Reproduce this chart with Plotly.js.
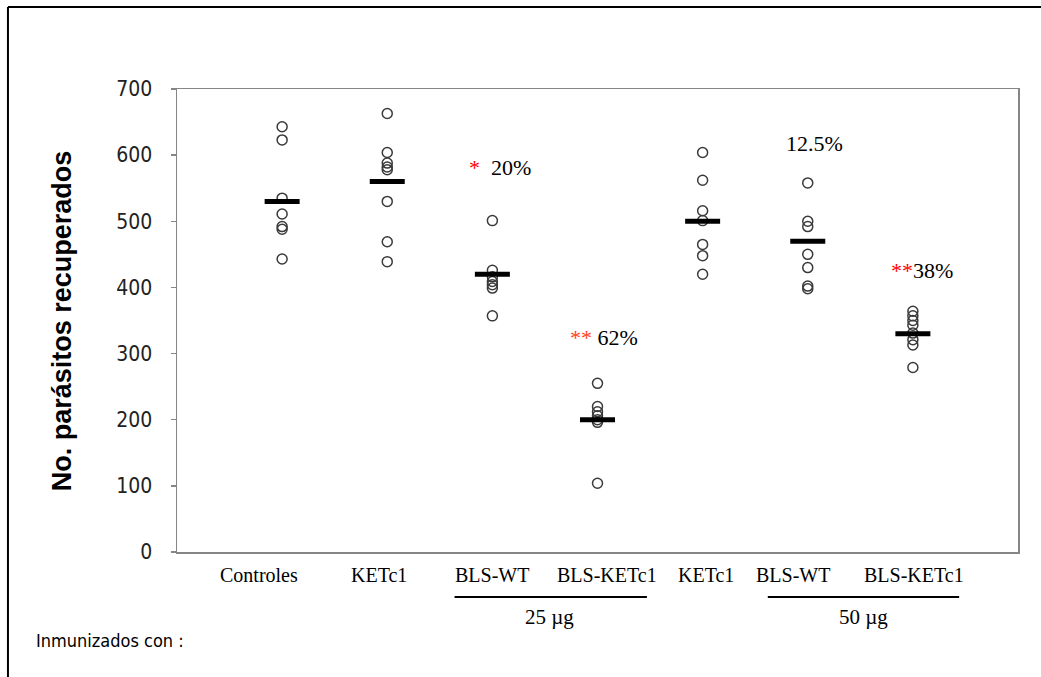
<!DOCTYPE html>
<html>
<head>
<meta charset="utf-8">
<script src="https://cdn.plot.ly/plotly-3.0.1.min.js"></script>
<style>html,body{margin:0;padding:0;background:#fff;}#chart{width:1041px;height:677px;}</style>
</head>
<body>
<div id="chart"></div>
<script>
// Group positions (category index) and labels
const groupPos = [1, 2, 3, 4, 5, 6, 7];
const groupLabels = ["Controles", "KETc1", "BLS-WT", "BLS-KETc1", "KETc1", "BLS-WT", "BLS-KETc1"];
const labelPos = [0.78, 1.92, 3.0, 4.09, 5.03, 5.86, 7.01];

// Individual values per group
const controles = [643, 623, 535, 511, 492, 488, 443];
const ketc1 = [663, 604, 588, 582, 578, 530, 469, 439];
const blsWt25 = [501, 426, 416, 409, 404, 399, 357];
const blsKetc1_25 = [255, 220, 212, 206, 200, 196, 104];
const ketc1_50 = [604, 562, 516, 501, 465, 448, 420];
const blsWt50 = [558, 500, 492, 450, 430, 402, 398];
const blsKetc1_50 = [364, 357, 350, 343, 331, 321, 313, 279];

const groups = [controles, ketc1, blsWt25, blsKetc1_25, ketc1_50, blsWt50, blsKetc1_50];
const medians = [530, 560, 420, 200, 500, 470, 330];

// Annotation texts
const pctTexts = ['<span style="color:#ff0000">*</span>  20%', '<span style="color:#ff4020">**</span> 62%', '12.5%', '<span style="color:#ff0000">**</span>38%'];
const pctX = [3.07, 4.06, 6.06, 7.09];
const pctY = [581, 324, 618, 426];

const doseLabels = ["25 \u00b5g", "50 \u00b5g"];
const doseX = [3.54, 6.53];
const doseLine = [[2.64, 4.47], [5.62, 7.44]];

const xs = [], ys = [];
groups.forEach((g, i) => g.forEach(v => { xs.push(groupPos[i]); ys.push(v); }));

const traces = [
  {
    x: xs, y: ys, type: 'scatter', mode: 'markers',
    marker: {symbol: 'circle-open', size: 10, color: '#3a3a3a', line: {width: 1.5, color: '#3a3a3a'}},
    hoverinfo: 'y', showlegend: false
  },
  {
    x: groupPos, y: medians, type: 'scatter', mode: 'markers',
    marker: {symbol: 'line-ew', size: 25, color: '#000', line: {width: 5, color: '#000'}},
    hoverinfo: 'y', showlegend: false
  }
];

const serif = 'Liberation Serif, Times New Roman, serif';
const narrow = 'DejaVu Sans Condensed, Liberation Sans Narrow, Arial Narrow, sans-serif';
const annotations = [];
groupLabels.forEach((t, i) => annotations.push({
  text: t, x: labelPos[i], xref: 'x', y: -0.05, yref: 'paper',
  showarrow: false, xanchor: 'center', yanchor: 'middle',
  font: {family: serif, size: 20, color: '#000'}
}));
pctTexts.forEach((t, i) => annotations.push({
  text: t, x: pctX[i], xref: 'x', y: pctY[i], yref: 'y',
  showarrow: false, xanchor: 'center', yanchor: 'middle',
  font: {family: serif, size: 22, color: '#000'}
}));
doseLabels.forEach((t, i) => annotations.push({
  text: t, x: doseX[i], xref: 'x', y: -0.141, yref: 'paper',
  showarrow: false, xanchor: 'center', yanchor: 'middle',
  font: {family: serif, size: 21, color: '#000'}
}));
annotations.push({
  text: 'Inmunizados con :', x: -0.170, xref: 'paper', y: -0.192, yref: 'paper',
  showarrow: false, xanchor: 'left', yanchor: 'middle',
  font: {family: narrow, size: 18, color: '#000'}
});
annotations.push({
  text: '<b>No. parásitos recuperados</b>', x: -0.137, xref: 'paper', y: 0.50, yref: 'paper',
  showarrow: false, textangle: -90, xanchor: 'center', yanchor: 'middle',
  font: {family: 'Liberation Sans, Arial, sans-serif', size: 27, color: '#000'}
});

const shapes = doseLine.map(d => ({
  type: 'line', xref: 'x', yref: 'paper', x0: d[0], x1: d[1], y0: -0.097, y1: -0.097,
  line: {color: '#000', width: 2}
}));
// outer frame (top and left)
shapes.push({type: 'line', xref: 'paper', yref: 'paper', x0: -0.201, x1: 1.03, y0: 1.177, y1: 1.177, line: {color: '#000', width: 2}});
shapes.push({type: 'line', xref: 'paper', yref: 'paper', x0: -0.201, x1: -0.201, y0: 1.177, y1: -0.27, line: {color: '#000', width: 2}});

const layout = {
  width: 1041, height: 677,
  margin: {l: 177, r: 23, t: 89, b: 125},
  paper_bgcolor: '#fff', plot_bgcolor: '#fff',
  xaxis: {
    range: [0, 8], showgrid: false, zeroline: false, showticklabels: false, ticks: '',
    showline: true, mirror: true, linecolor: '#868686', linewidth: 1.5
  },
  yaxis: {
    range: [0, 700], dtick: 100, showgrid: false, zeroline: false,
    showline: true, mirror: true, linecolor: '#868686', linewidth: 1.5,
    ticks: 'outside', ticklen: 5, tickcolor: '#868686', tickwidth: 1.5,
    ticklabelstandoff: 14,
    tickfont: {family: narrow, size: 21, color: '#222'}
  },
  annotations: annotations,
  shapes: shapes,
  showlegend: false
};

Plotly.newPlot('chart', traces, layout, {displayModeBar: false, staticPlot: true});
</script>
</body>
</html>
